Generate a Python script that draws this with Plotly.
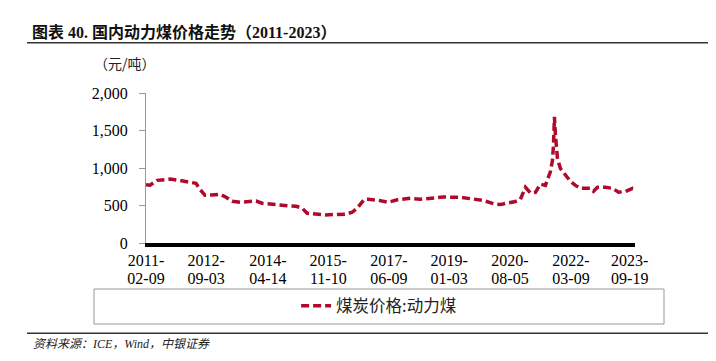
import plotly.graph_objects as go

# ---- data ----
dates = [
    "2011-02-09", "2011-03-19", "2011-05-25", "2011-09-26", "2011-12-30",
    "2012-04-22", "2012-05-30", "2012-07-07", "2012-08-24", "2012-10-30",
    "2013-01-14", "2013-03-12", "2013-05-09", "2013-07-24", "2013-10-27",
    "2013-12-23", "2014-02-18", "2014-05-25", "2014-08-28", "2014-11-12",
    "2015-01-09", "2015-03-07", "2015-04-23", "2015-07-09", "2015-10-12",
    "2016-01-15", "2016-04-19", "2016-06-25", "2016-08-12", "2016-10-18",
    "2016-11-25", "2017-02-28", "2017-06-03", "2017-08-28", "2017-12-30",
    "2018-04-04", "2018-07-28", "2018-11-09", "2019-04-20", "2019-07-25",
    "2019-11-16", "2020-03-19", "2020-05-06", "2020-07-11", "2020-09-26",
    "2020-11-12", "2020-12-30", "2021-02-16", "2021-04-04", "2021-05-22",
    "2021-07-08", "2021-08-25", "2021-09-13", "2021-09-23", "2021-10-02",
    "2021-10-12", "2021-10-31", "2021-11-28", "2022-01-15", "2022-03-04",
    "2022-04-20", "2022-06-07", "2022-09-10", "2022-10-09", "2022-11-16",
    "2023-01-31", "2023-04-08", "2023-06-04", "2023-08-10", "2023-10-16",
    "2023-11-04",
]
prices = [
    777, 770, 835, 852, 835,
    808, 795, 715, 636, 640,
    650, 610, 556, 543, 556,
    560, 530, 517, 494, 494,
    490, 464, 397, 388, 375,
    380, 384, 410, 464, 583,
    583, 570, 543, 576, 596,
    583, 596, 613, 609, 596,
    570, 517, 512, 534, 552,
    583, 742, 666, 676, 785,
    768, 953, 1100, 1298, 1682,
    1430, 1126, 993, 900, 821,
    768, 729, 729, 689, 742,
    742, 729, 676, 689, 729,
    722,
]
tick_dates = ["2011-02-09", "2012-09-03", "2014-04-14", "2015-11-10", "2017-06-09",
              "2019-01-03", "2020-08-05", "2022-03-09", "2023-09-19"]
tick_row1 = ["2011-", "2012-", "2014-", "2015-", "2017-", "2019-", "2020-", "2022-", "2023-"]
tick_row2 = ["02-09", "09-03", "04-14", "11-10", "06-09", "01-03", "08-05", "03-09", "09-19"]
y_ticks = [0, 500, 1000, 1500, 2000]
series_name = "煤炭价格:动力煤"
title_text = "图表 40. 国内动力煤价格走势（2011-2023）"
unit_text = "（元/吨）"
source_text = "资料来源：ICE，Wind，中银证券"

SERIF = "Liberation Serif, Times New Roman, Noto Sans CJK SC, serif"
RED = "#AF0A2B"

# page body has an 8px margin: figure is drawn 8px smaller and coordinates offset
W, H = 708, 353
OFF = 8
PL, PR, PT, PB = 146, 635, 93, 243  # plot area in screen pixels

fig = go.Figure()
fig.add_trace(go.Scatter(
    x=dates, y=prices, mode="lines", name=series_name,
    line=dict(color=RED, width=3.5, dash="8px,4px"),
))
# invisible copy bound to the second-row date axis so that axis is drawn
fig.add_trace(go.Scatter(
    x=dates, y=prices, mode="lines", xaxis="x2", showlegend=False,
    hoverinfo="skip", opacity=0, line=dict(width=0.1, color=RED),
))

xrange_ = ["2011-02-09", "2023-11-08"]

fig.update_layout(
    width=W, height=H,
    margin=dict(l=PL - OFF, r=W - (PR - OFF), t=PT - OFF, b=H - (PB - OFF), autoexpand=False),
    paper_bgcolor="white", plot_bgcolor="white",
    font=dict(family=SERIF, size=16, color="black"),
    showlegend=True,
    legend=dict(
        x=0.307, y=-0.42, xanchor="left", yanchor="middle",
        orientation="h", bgcolor="rgba(0,0,0,0)",
        font=dict(family="Noto Sans CJK SC, " + SERIF, size=16.5, color="#222"),
    ),
    xaxis=dict(
        type="date", range=xrange_,
        tickvals=tick_dates, ticktext=tick_row1,
        showline=True, linecolor="black", linewidth=4,
        showgrid=False, zeroline=False, ticks="",
        tickfont=dict(family=SERIF, size=16),
        ticklabelstandoff=0,
    ),
    xaxis2=dict(
        type="date", range=xrange_, overlaying="x", anchor="y", side="bottom",
        tickvals=tick_dates, ticktext=tick_row2,
        showline=False, showgrid=False, zeroline=False, ticks="",
        tickfont=dict(family=SERIF, size=16),
        ticklabelstandoff=24,
    ),
    yaxis=dict(
        range=[0, 2000], tickvals=y_ticks, tickformat=",d",
        showline=True, linecolor="#999", linewidth=1,
        ticks="outside", ticklen=6, tickcolor="#999",
        showgrid=False, zeroline=False,
        tickfont=dict(family=SERIF, size=16),
        ticklabelstandoff=8,
    ),
)

def px2x(px):
    return (px - PL) / float(PR - PL)

def py2y(py):
    return (PB - py) / float(PB - PT)

fig.add_annotation(
    text="<b>" + title_text + "</b>", xref="paper", yref="paper",
    x=px2x(30), y=py2y(31.7), xanchor="left", yanchor="middle",
    showarrow=False, font=dict(family=SERIF, size=16, color="#111"),
)
fig.add_annotation(
    text=unit_text, xref="paper", yref="paper",
    x=px2x(125), y=py2y(63), xanchor="center", yanchor="middle",
    showarrow=False, font=dict(family="Noto Sans CJK SC", size=14, color="#222"),
)
fig.add_annotation(
    text="<i>" + source_text + "</i>", xref="paper", yref="paper",
    x=px2x(31), y=py2y(344.3), xanchor="left", yanchor="middle",
    showarrow=False, font=dict(family=SERIF, size=12, color="#222"),
)

# title rule, legend frame, bottom rule
fig.add_shape(type="line", xref="paper", yref="paper",
              x0=px2x(27), x1=px2x(716), y0=py2y(42.7), y1=py2y(42.7),
              line=dict(color="#333", width=1.5))
fig.add_shape(type="rect", xref="paper", yref="paper",
              x0=px2x(94), x1=px2x(664), y0=py2y(324), y1=py2y(289),
              line=dict(color="#999", width=1))
fig.add_shape(type="line", xref="paper", yref="paper",
              x0=px2x(27), x1=px2x(716), y0=py2y(333.3), y1=py2y(333.3),
              line=dict(color="#333", width=1.5))

fig.write_html("out.html")
